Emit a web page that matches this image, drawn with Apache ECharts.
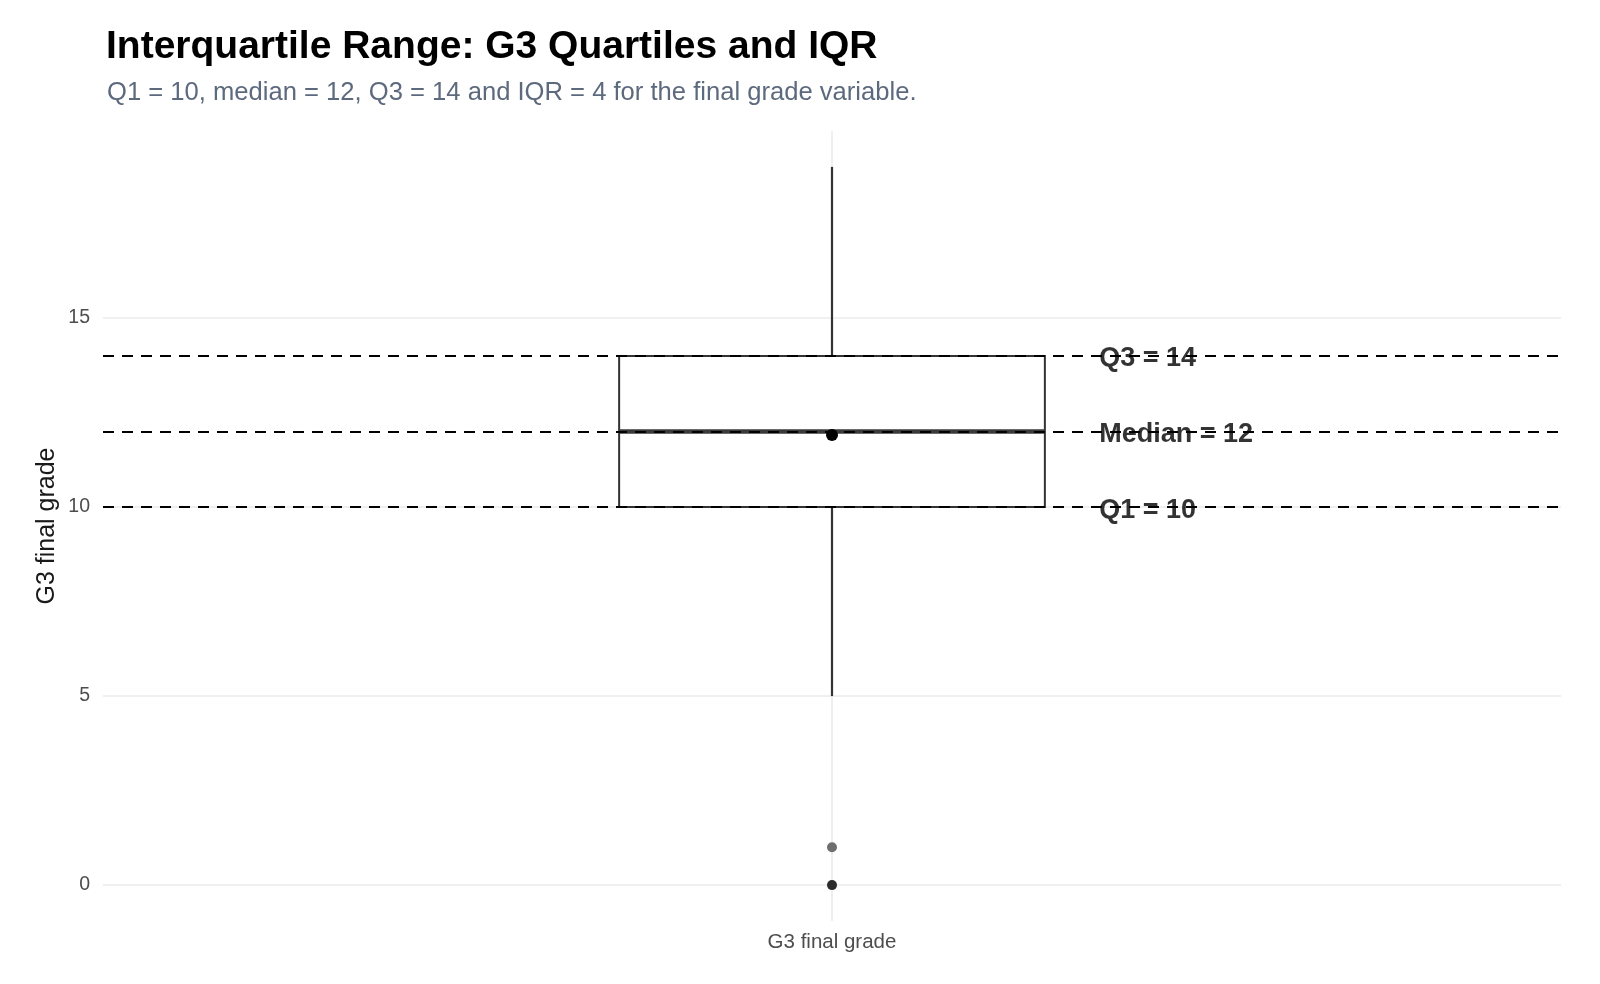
<!DOCTYPE html>
<html>
<head>
<meta charset="utf-8">
<title>Interquartile Range: G3 Quartiles and IQR</title>
<script src="https://cdn.jsdelivr.net/npm/echarts@6/dist/echarts.min.js"></script>
<style>
  html, body { margin: 0; padding: 0; background: #fff; }
  #chart { width: 1600px; height: 984px; }
</style>
</head>
<body>
<div id="chart"></div>
<script>
// values
const categories = ["G3 final grade"];
// [lower whisker, Q1, median, Q3, upper whisker]
const boxStats = [5, 10, 12, 14, 19];
const meanValue = 11.91;
const outliers = [0, 1];
const outlierColors = ["#2b2b2b", "#6e6e6e"];
const refLines = [
  { value: 14, label: "Q3 = 14" },
  { value: 12, label: "Median = 12" },
  { value: 10, label: "Q1 = 10" },
];
const yTicks = [0, 5, 10, 15];
const labelX = 1.22; // position on the 0.4–1.6 discrete scale

const BOX_WIDTH = 0.292; // share of the category band
const FONT = "Liberation Sans, Arial, Helvetica, sans-serif";

const chart = echarts.init(document.getElementById("chart"));

function renderBox(params, api) {
  const x = api.value(0);
  const lo = api.coord([x, api.value(1)]);
  const q1 = api.coord([x, api.value(2)]);
  const med = api.coord([x, api.value(3)]);
  const q3 = api.coord([x, api.value(4)]);
  const hi = api.coord([x, api.value(5)]);
  const half = (api.size([1, 0])[0] * BOX_WIDTH) / 2;
  const stroke = { stroke: "#333333", lineWidth: 2.2 };
  return {
    type: "group",
    children: [
      { type: "line", shape: { x1: hi[0], y1: hi[1], x2: q3[0], y2: q3[1] }, style: stroke },
      { type: "line", shape: { x1: q1[0], y1: q1[1], x2: lo[0], y2: lo[1] }, style: stroke },
      {
        type: "rect",
        shape: { x: q3[0] - half, y: q3[1], width: half * 2, height: q1[1] - q3[1] },
        style: { fill: "#ffffff", stroke: "#333333", lineWidth: 2 },
      },
      {
        type: "line",
        shape: { x1: med[0] - half, y1: med[1], x2: med[0] + half, y2: med[1] },
        style: { stroke: "#3a3a3a", lineWidth: 4.5 },
      },
    ],
  };
}

chart.setOption({
  animation: false,
  backgroundColor: "#ffffff",
  textStyle: { fontFamily: FONT },
  title: [
    {
      text: "Interquartile Range: G3 Quartiles and IQR",
      left: 101,
      top: 23,
      textStyle: { fontSize: 39, fontWeight: "bold", color: "#000000", fontFamily: FONT },
    },
    {
      text: "Q1 = 10, median = 12, Q3 = 14 and IQR = 4 for the final grade variable.",
      left: 102,
      top: 75,
      textStyle: { fontSize: 25.6, fontWeight: "normal", color: "#5d6a7e", fontFamily: FONT },
    },
  ],
  grid: { left: 103, right: 39, top: 131, bottom: 63 },
  xAxis: [
    {
      type: "category",
      data: categories,
      axisLine: { show: false },
      axisTick: { show: false },
      splitLine: { show: false },
      axisLabel: { color: "#4d4d4d", fontSize: 20.5, margin: 11 },
    },
    { type: "value", min: 0.4, max: 1.6, show: false },
  ],
  yAxis: {
    type: "value",
    min: -0.95,
    max: 19.95,
    name: "G3 final grade",
    nameLocation: "middle",
    nameGap: 43,
    nameMoveOverlap: false,
    nameTextStyle: { fontSize: 25, color: "#1a1a1a" },
    axisLine: { show: false },
    axisTick: { show: false, customValues: yTicks },
    axisLabel: { color: "#4d4d4d", fontSize: 19.5, margin: 13, customValues: yTicks },
    splitLine: { show: true, lineStyle: { color: "#ebebeb", width: 1.6 } },
  },
  series: [
    {
      name: "grid",
      type: "scatter",
      data: [],
      z: 1,
      silent: true,
      markLine: {
        z: 1,
        silent: true,
        symbol: "none",
        label: { show: false },
        lineStyle: { color: "#ebebeb", width: 1.6, type: "solid" },
        data: [{ xAxis: 0 }],
      },
    },
    {
      name: "box",
      type: "custom",
      z: 2,
      renderItem: renderBox,
      encode: { x: 0, y: [1, 2, 3, 4, 5] },
      data: [[0].concat(boxStats)],
    },
    {
      name: "outliers",
      type: "scatter",
      z: 3,
      symbolSize: 10,
      data: outliers.map((v, i) => ({ value: [0, v], itemStyle: { color: outlierColors[i], opacity: 1 } })),
    },
    {
      name: "quartiles",
      type: "scatter",
      z: 4,
      data: [],
      markLine: {
        z: 4,
        silent: true,
        symbol: "none",
        label: { show: false },
        lineStyle: { color: "#000000", width: 2.2, type: [11, 8], opacity: 1 },
        data: refLines.map((r) => ({ yAxis: r.value })),
      },
    },
    {
      name: "labels",
      type: "scatter",
      xAxisIndex: 1,
      z: 7,
      symbolSize: 0,
      data: refLines.map((r) => [labelX, r.value, r.label]),
      label: {
        show: true,
        position: [0, 3],
        align: "left",
        verticalAlign: "middle",
        formatter: (p) => p.value[2],
        fontSize: 27,
        fontWeight: "bold",
        color: "#000000",
        fontFamily: FONT,
      },
    },
    {
      name: "mean",
      type: "scatter",
      z: 6,
      symbolSize: 12,
      itemStyle: { color: "#000000", opacity: 1 },
      data: [[0, meanValue]],
    },
  ],
});
</script>
</body>
</html>
